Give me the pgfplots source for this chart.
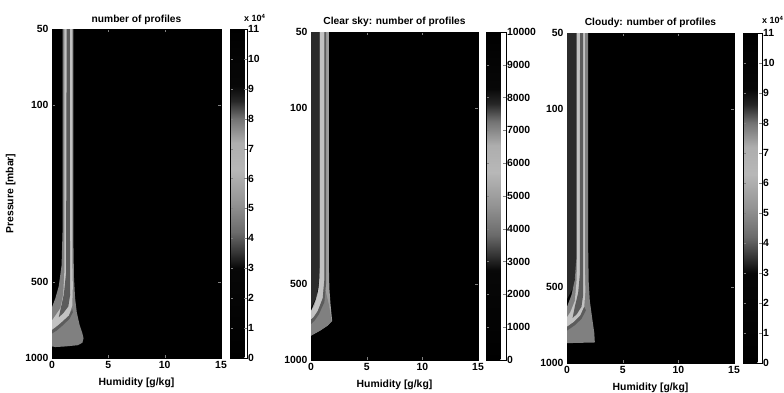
\documentclass[border=0pt]{standalone}
\usepackage{pgfplots}
\pgfplotsset{compat=1.18}
\usepackage{fontspec}
\setmainfont{Liberation Sans}
\definecolor{gA}{gray}{0.5}
\definecolor{gB}{gray}{0.76}
\definecolor{gC}{gray}{0.36}
\definecolor{gD}{gray}{0.17}
\definecolor{gE}{gray}{0.62}
\pgfplotsset{
  colormap={jetgray}{gray(0cm)=(0); gray(3cm)=(0.03); gray(3.5cm)=(0.2); gray(4.2cm)=(0.42); gray(5.2cm)=(0.58); gray(6.3cm)=(0.72); gray(7.2cm)=(0.68); gray(8cm)=(0.45); gray(8.6cm)=(0.15); gray(9.1cm)=(0.03); gray(11cm)=(0)},
}
\begin{document}
\begin{tikzpicture}
\useasboundingbox (0,0) rectangle (784pt,393pt);
% Panel 1
\begin{axis}[at={(52pt,35pt)}, anchor=south west, scale only axis, width=169pt, height=329pt,
    xmin=0, xmax=15, ymode=log, ymin=50, ymax=1000, y dir=reverse,
    xtick={0,5,10,15}, ytick={50,100,500,1000}, yticklabels={50,100,500,1000},
    axis background/.style={fill=black},
    tick align=inside, major tick length=3pt,
    /pgf/number format/assume math mode=true,
    ticklabel style={font=\bfseries\fontsize{10.4}{12}\selectfont},
    xlabel={Humidity [g/kg]}, ylabel={Pressure [mbar]},
    label style={font=\bfseries\fontsize{10.4}{12}\selectfont},
    ylabel style={yshift=3pt}, xlabel style={yshift=-2pt},
    title={number of profiles},
    title style={font=\bfseries\fontsize{10.2}{12}\selectfont, yshift=-5pt},
    colorbar, colormap name=jetgray,
    point meta min=0, point meta max=11,
    colorbar style={width=17pt, at={(parent axis.north east)}, anchor=north west, xshift=0.5pt,
      yticklabel pos=right, tick align=inside, major tick length=3pt,
      ytick={0,1,...,11}, yticklabel style={xshift=-2.5pt},
      ticklabel style={font=\bfseries\fontsize{10.4}{12}\selectfont},
      /pgf/number format/assume math mode=true}]
\addplot[fill=gA, draw=none] coordinates {(0.95,50)(1.9,50)(1.9,350)(1.95,480)(2.05,580)(2.2,660)(2.45,740)(2.7,800)(2.8,835)(2.7,870)(2.3,890)(1.2,900)(0.3,905)(0,900)(0,630)(0.3,580)(0.6,520)(0.85,430)(0.95,300)} -- cycle;
\addplot[fill=gB, draw=none] coordinates {(1.1,50)(1.8,50)(1.8,400)(1.85,520)(1.8,620)(1.5,680)(0.9,720)(0.35,755)(0,775)(0,710)(0.3,680)(0.75,635)(1.0,560)(1.1,450)} -- cycle;
\addplot[fill=gC, draw=none] coordinates {(1.3,50)(1.58,50)(1.6,450)(1.62,560)(1.45,625)(1.0,665)(0.6,690)(0.8,630)(1.05,560)(1.25,460)} -- cycle;
\addplot[fill=gC, draw=none] coordinates {(0,775)(0.35,755)(0.9,720)(1.5,680)(1.8,640)(1.85,660)(1.55,700)(1.0,740)(0.4,780)(0,800)} -- cycle;
\end{axis}
% Panel 2
\begin{axis}[at={(311pt,33pt)}, anchor=south west, scale only axis, width=167pt, height=328pt,
    xmin=0, xmax=15, ymode=log, ymin=50, ymax=1000, y dir=reverse,
    xtick={0,5,10,15}, ytick={50,100,500,1000}, yticklabels={50,100,500,1000},
    axis background/.style={fill=black},
    tick align=inside, major tick length=3pt,
    /pgf/number format/assume math mode=true,
    ticklabel style={font=\bfseries\fontsize{10.4}{12}\selectfont},
    xlabel={Humidity [g/kg]},
    label style={font=\bfseries\fontsize{10.4}{12}\selectfont},
    xlabel style={yshift=-2pt},
    title={Clear sky: number of profiles},
    title style={font=\bfseries\fontsize{10.2}{12}\selectfont, yshift=-4.5pt},
    colorbar, colormap name=jetgray,
    point meta min=0, point meta max=10000,
    colorbar style={width=20pt, at={(parent axis.north east)}, anchor=north west, xshift=-0.5pt,
      yticklabel pos=right, tick align=inside, major tick length=3pt,
      ytick={0,1000,...,10000}, scaled y ticks=false,
      yticklabel style={xshift=-2.5pt, /pgf/number format/fixed, /pgf/number format/1000 sep={}},
      ticklabel style={font=\bfseries\fontsize{10.4}{12}\selectfont},
      /pgf/number format/assume math mode=true}]
\addplot[fill=gD, draw=none] coordinates {(0,50)(0.85,50)(0.85,450)(0.5,560)(0,620)} -- cycle;
\addplot[fill=gE, draw=none] coordinates {(0.8,50)(1.6,50)(1.6,420)(1.65,520)(1.75,600)(1.9,700)(1.5,730)(0.8,765)(0,800)(0,640)(0.4,580)(0.7,520)(0.8,420)} -- cycle;
\addplot[fill=gA, draw=none] coordinates {(0,690)(0.2,680)(0.6,640)(1.05,570)(1.3,530)(1.6,600)(1.85,700)(1.5,730)(0.8,765)(0,800)} -- cycle;
\addplot[fill=gB, draw=none] coordinates {(0.8,50)(1.2,50)(1.2,480)(1.05,570)(0.6,640)(0.2,680)(0,690)(0,640)(0.3,610)(0.6,550)(0.8,470)} -- cycle;
\addplot[fill=gC, draw=none] coordinates {(1.2,50)(1.35,50)(1.35,500)(1.2,590)(0.7,660)(0.3,700)(0,720)(0,690)(0.2,680)(0.6,640)(1.05,570)(1.2,480)} -- cycle;
\end{axis}
% Panel 3
\begin{axis}[at={(567pt,30pt)}, anchor=south west, scale only axis, width=167pt, height=330pt,
    xmin=0, xmax=15, ymode=log, ymin=50, ymax=1000, y dir=reverse,
    xtick={0,5,10,15}, ytick={50,100,500,1000}, yticklabels={50,100,500,1000},
    axis background/.style={fill=black},
    tick align=inside, major tick length=3pt,
    /pgf/number format/assume math mode=true,
    ticklabel style={font=\bfseries\fontsize{10.4}{12}\selectfont},
    xlabel={Humidity [g/kg]},
    label style={font=\bfseries\fontsize{10.4}{12}\selectfont},
    xlabel style={yshift=-2pt},
    title={Cloudy: number of profiles},
    title style={font=\bfseries\fontsize{10.2}{12}\selectfont, yshift=-4.5pt},
    colorbar, colormap name=jetgray,
    point meta min=0, point meta max=11,
    colorbar style={width=19pt, at={(parent axis.north east)}, anchor=north west, xshift=0.5pt,
      yticklabel pos=right, tick align=inside, major tick length=3pt,
      ytick={0,1,...,11}, yticklabel style={xshift=-2.5pt},
      ticklabel style={font=\bfseries\fontsize{10.4}{12}\selectfont},
      /pgf/number format/assume math mode=true}]
\addplot[fill=gD, draw=none] coordinates {(0,50)(0.9,50)(0.9,400)(0.6,500)(0,560)} -- cycle;
\addplot[fill=gA, draw=none] coordinates {(0.85,50)(1.9,50)(1.9,350)(1.95,480)(2.05,570)(2.25,660)(2.45,760)(2.5,830)(1.5,832)(0,835)(0,600)(0.4,540)(0.7,470)(0.85,380)} -- cycle;
\addplot[fill=gB, draw=none] coordinates {(0.9,50)(1.6,50)(1.6,420)(1.65,520)(1.55,600)(1.2,650)(0.6,690)(0.2,710)(0,720)(0,660)(0.3,630)(0.7,570)(0.85,480)(0.9,400)} -- cycle;
\addplot[fill=gC, draw=none] coordinates {(1.17,50)(1.44,50)(1.44,450)(1.45,540)(1.3,600)(0.9,640)(0.5,665)(0.7,600)(1.0,530)(1.15,450)} -- cycle;
\addplot[fill=gC, draw=none] coordinates {(0,720)(0.2,710)(0.6,690)(1.2,650)(1.55,600)(1.7,620)(1.3,670)(0.7,710)(0,745)} -- cycle;
\end{axis}
\node[anchor=base west, font=\bfseries\fontsize{9}{10}\selectfont, inner sep=0pt] at (244pt,371pt) {x 10\textsuperscript{4}};
\node[anchor=base west, font=\bfseries\fontsize{9}{10}\selectfont, inner sep=0pt] at (762pt,369pt) {x 10\textsuperscript{4}};
\end{tikzpicture}
\end{document}
